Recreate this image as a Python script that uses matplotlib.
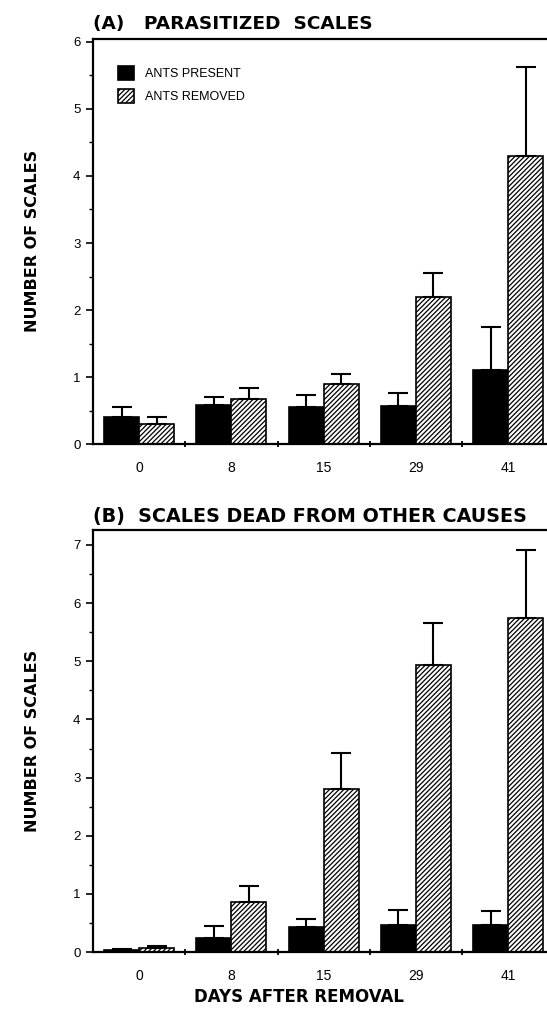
import numpy as np
import matplotlib.pyplot as plt
from matplotlib.ticker import MultipleLocator, FixedLocator

days = ["0", "8", "15", "29", "41"]

# (A) parasitized scales
para_present = [0.40, 0.58, 0.55, 0.57, 1.10]
para_present_top = [0.55, 0.70, 0.73, 0.77, 1.75]
para_removed = [0.30, 0.67, 0.90, 2.20, 4.30]
para_removed_top = [0.40, 0.83, 1.05, 2.55, 5.62]

# (B) dead from other causes
dead_present = [0.03, 0.25, 0.43, 0.47, 0.47]
dead_present_top = [0.05, 0.45, 0.57, 0.72, 0.70]
dead_removed = [0.07, 0.87, 2.80, 4.93, 5.75]
dead_removed_top = [0.10, 1.13, 3.43, 5.65, 6.92]

plt.rcParams['font.family'] = ['Liberation Sans', 'DejaVu Sans']
plt.rcParams['hatch.linewidth'] = 0.9

fig = plt.figure(figsize=(5.47, 10.14), dpi=100)
axA = fig.add_axes([0.170, 0.562, 0.835, 0.400])
axB = fig.add_axes([0.170, 0.061, 0.835, 0.416])

w = 0.38
x = np.arange(len(days))
bold = dict(family='DejaVu Sans', fontweight='bold')


def panel(ax, present, present_top, removed, removed_top, ytop, ymax):
    p = np.array(present)
    r = np.array(removed)
    ax.bar(x - w / 2, p, w, color='black', edgecolor='black', linewidth=1.2,
           label='ANTS PRESENT')
    ax.bar(x + w / 2, r, w, color='white', edgecolor='black', linewidth=1.2,
           hatch='///////', label='ANTS REMOVED')
    ax.errorbar(x - w / 2, p, yerr=[np.zeros_like(p), np.array(present_top) - p],
                fmt='none', ecolor='black', elinewidth=1.5, capsize=7, capthick=1.5)
    ax.errorbar(x + w / 2, r, yerr=[np.zeros_like(r), np.array(removed_top) - r],
                fmt='none', ecolor='black', elinewidth=1.5, capsize=7, capthick=1.5)
    ax.set_xlim(-0.5, 4.45)
    ax.set_ylim(0, ytop)
    ax.yaxis.set_major_locator(FixedLocator(range(0, ymax + 1)))
    ax.yaxis.set_minor_locator(MultipleLocator(0.5))
    ax.set_xticks(x)
    ax.set_xticklabels(days)
    ax.xaxis.set_minor_locator(FixedLocator([0.5, 1.5, 2.5, 3.5]))
    ax.tick_params(axis='x', which='major', length=0, pad=12, labelsize=10)
    ax.tick_params(axis='x', which='minor', length=5, width=1.3, direction='inout')
    ax.tick_params(axis='y', which='major', length=5, width=1.2, labelsize=9.5, pad=4)
    ax.tick_params(axis='y', which='minor', length=3, width=1.0)
    ax.spines['right'].set_visible(False)
    for s in ['left', 'top', 'bottom']:
        ax.spines[s].set_linewidth(1.6)
    ax.set_ylabel('NUMBER OF SCALES', fontsize=11.5, labelpad=24, **bold)


panel(axA, para_present, para_present_top, para_removed, para_removed_top, 6.05, 6)
panel(axB, dead_present, dead_present_top, dead_removed, dead_removed_top, 7.25, 7)

axA.set_title('(A)   PARASITIZED  SCALES', loc='left', fontsize=13.3,
              x=0.0, pad=7, **bold)
axB.set_title('(B)  SCALES DEAD FROM OTHER CAUSES', loc='left', fontsize=13.8,
              x=0.0, pad=6, **bold)
axB.set_xlabel('DAYS AFTER REMOVAL', fontsize=12, **bold)
axB.xaxis.set_label_coords(0.45, -0.085)

axA.legend(loc='upper left', bbox_to_anchor=(0.03, 0.96), frameon=False,
           fontsize=9, handlelength=1.3, handleheight=1.3, handletextpad=0.9,
           labelspacing=0.75)

fig.savefig('out.png', dpi=100)
